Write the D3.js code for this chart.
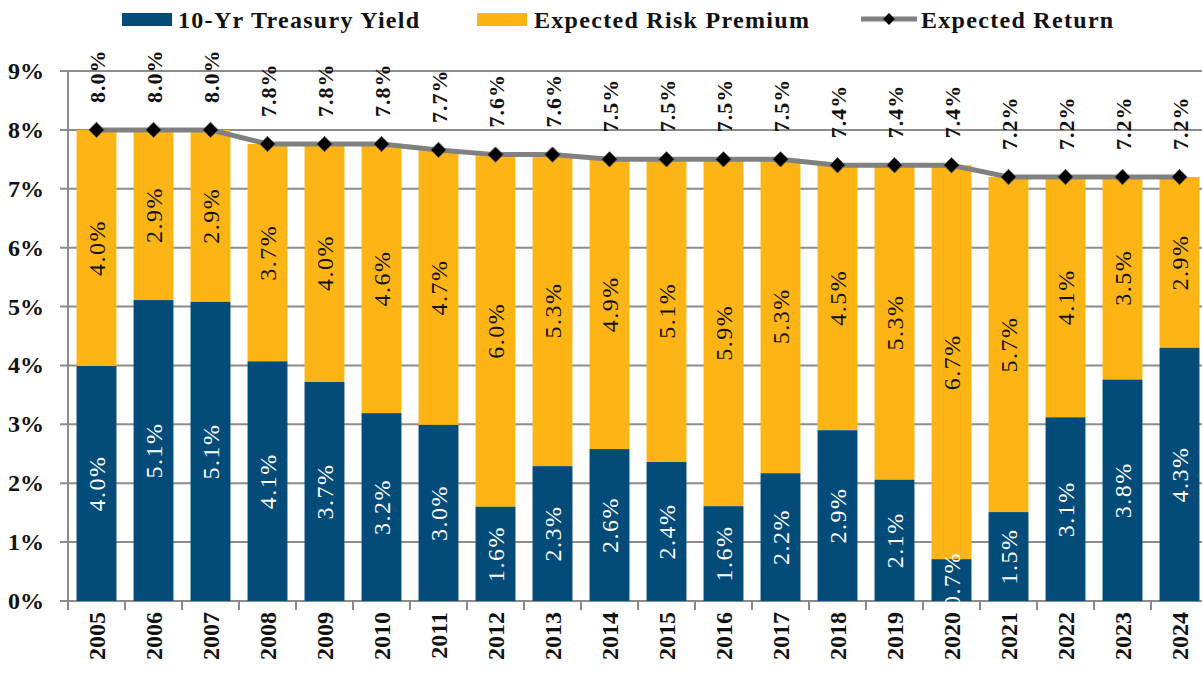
<!DOCTYPE html>
<html>
<head>
<meta charset="utf-8">
<script src="https://cdn.jsdelivr.net/npm/d3@7"></script>
<style>
  body { margin: 0; background: #fff; }
</style>
</head>
<body>
<div id="chart"></div>
<script>
const years = ["2005", "2006", "2007", "2008", "2009", "2010", "2011", "2012", "2013", "2014",
  "2015", "2016", "2017", "2018", "2019", "2020", "2021", "2022", "2023", "2024"];
const treasury = [3.99, 5.11, 5.08, 4.07, 3.72, 3.19, 2.99, 1.60, 2.29, 2.58,
  2.36, 1.61, 2.17, 2.90, 2.06, 0.71, 1.51, 3.12, 3.76, 4.30];
const premium = [4.01, 2.89, 2.92, 3.69, 4.04, 4.57, 4.67, 5.98, 5.29, 4.92,
  5.14, 5.89, 5.33, 4.50, 5.34, 6.69, 5.69, 4.08, 3.46, 2.90];
const expected = [8.00, 8.00, 8.00, 7.76, 7.76, 7.76, 7.66, 7.58, 7.58, 7.50,
  7.50, 7.50, 7.50, 7.40, 7.40, 7.40, 7.20, 7.20, 7.20, 7.20];
const yTicks = [0, 1, 2, 3, 4, 5, 6, 7, 8, 9];

const W = 1202, H = 675;
const plotL = 68, plotR = 1208, plotT = 71, plotB = 601;
const blue = "#034b78", gold = "#fdb515", grid = "#8c8c8c";

const svg = d3.select("#chart").append("svg")
  .attr("width", W).attr("height", H)
  .style("font-family", "Liberation Serif");

const x = d3.scaleBand().domain(years).range([plotL, plotR])
  .paddingInner(0.3).paddingOuter(0.15);
const y = d3.scaleLinear().domain([0, 9]).range([plotB, plotT]);

// gridlines + y labels
svg.append("g").selectAll("line").data(yTicks).join("line")
  .attr("x1", plotL - 8).attr("x2", W)
  .attr("y1", d => y(d)).attr("y2", d => y(d))
  .attr("stroke", grid).attr("stroke-width", 2);

svg.append("g").selectAll("text").data(yTicks).join("text")
  .attr("x", 44).attr("y", d => y(d) + 8)
  .attr("text-anchor", "end")
  .attr("font-size", 24).attr("font-weight", "bold").attr("fill", "#111")
  .text(d => d + "%");

// bars
const rows = years.map((yr, i) => ({ yr, t: treasury[i], p: premium[i], e: expected[i] }));

svg.append("g").selectAll("rect").data(rows).join("rect")
  .attr("x", d => x(d.yr)).attr("width", x.bandwidth())
  .attr("y", d => y(d.t + d.p)).attr("height", d => y(d.t) - y(d.t + d.p))
  .attr("fill", gold);

svg.append("g").selectAll("rect").data(rows).join("rect")
  .attr("x", d => x(d.yr)).attr("width", x.bandwidth())
  .attr("y", d => y(d.t)).attr("height", d => y(0) - y(d.t))
  .attr("fill", blue);

// axes lines
svg.append("line").attr("x1", plotL).attr("x2", plotL).attr("y1", plotT).attr("y2", plotB + 8)
  .attr("stroke", grid).attr("stroke-width", 2);
const bounds = years.map(yr => x(yr) - x.step() * 0.15).concat([plotR]);
svg.append("g").selectAll("line").data(bounds).join("line")
  .attr("x1", d => d).attr("x2", d => d).attr("y1", plotB).attr("y2", plotB + 9)
  .attr("stroke", grid).attr("stroke-width", 2);

// year labels
svg.append("g").selectAll("text").data(years).join("text")
  .attr("transform", d => `translate(${x(d) + x.bandwidth() / 2 + 8},${plotB + 11}) rotate(-90)`)
  .attr("text-anchor", "end")
  .attr("font-size", 24).attr("font-weight", "bold").attr("fill", "#111")
  .text(d => d);

// segment labels
svg.append("g").selectAll("text").data(rows).join("text")
  .attr("transform", d => `translate(${x(d.yr) + x.bandwidth() / 2 + 8},${y(d.t / 2)}) rotate(-90)`)
  .attr("text-anchor", "middle")
  .attr("font-size", 24).attr("letter-spacing", 1.5).attr("fill", "#fff")
  .text(d => d.t.toFixed(1) + "%");

svg.append("g").selectAll("text").data(rows).join("text")
  .attr("transform", d => `translate(${x(d.yr) + x.bandwidth() / 2 + 8},${y(d.t + d.p / 2)}) rotate(-90)`)
  .attr("text-anchor", "middle")
  .attr("font-size", 24).attr("letter-spacing", 1.5).attr("fill", "#111")
  .text(d => d.p.toFixed(1) + "%");

// expected return line
const cx = d => x(d.yr) + x.bandwidth() / 2;
svg.append("path").datum(rows)
  .attr("d", d3.line().x(cx).y(d => y(d.e)))
  .attr("fill", "none").attr("stroke", "#808080").attr("stroke-width", 5);

const diamond = d3.symbol().type(d3.symbolDiamond2).size(150);
svg.append("g").selectAll("path").data(rows).join("path")
  .attr("transform", d => `translate(${cx(d)},${y(d.e)})`)
  .attr("d", diamond)
  .attr("fill", "#000").attr("stroke", "#555").attr("stroke-width", 1);

svg.append("g").selectAll("text").data(rows).join("text")
  .attr("transform", d => `translate(${cx(d) + 8},${y(d.e) - 27}) rotate(-90)`)
  .attr("text-anchor", "start")
  .attr("font-size", 22).attr("font-weight", "bold").attr("letter-spacing", 1).attr("fill", "#111")
  .text(d => d.e.toFixed(1) + "%");

// legend
const lg = svg.append("g");
lg.append("rect").attr("x", 122).attr("y", 13).attr("width", 50).attr("height", 13).attr("fill", blue);
lg.append("text").attr("x", 178).attr("y", 28).text("10-Yr Treasury Yield");
lg.append("rect").attr("x", 477).attr("y", 13).attr("width", 50).attr("height", 13).attr("fill", gold);
lg.append("text").attr("x", 534).attr("y", 28).text("Expected Risk Premium");
lg.append("line").attr("x1", 861).attr("x2", 917).attr("y1", 19).attr("y2", 19)
  .attr("stroke", "#808080").attr("stroke-width", 5);
lg.append("path").attr("transform", "translate(889,19)").attr("d", d3.symbol().type(d3.symbolDiamond2).size(90))
  .attr("fill", "#000");
lg.append("text").attr("x", 921).attr("y", 28).text("Expected Return");
lg.selectAll("text").attr("font-size", 24).attr("font-weight", "bold")
  .attr("letter-spacing", 1.3).attr("fill", "#111");
</script>
</body>
</html>
